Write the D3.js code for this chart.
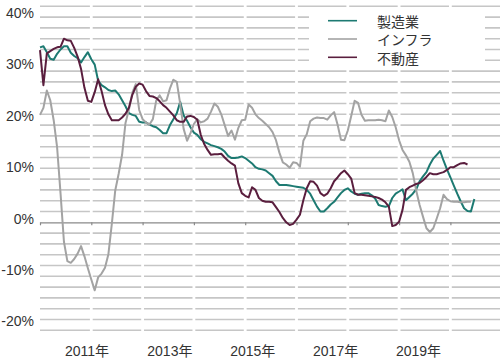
<!DOCTYPE html>
<html><head><meta charset="utf-8">
<script src="https://cdn.jsdelivr.net/npm/d3@7"></script>
<style>body{margin:0;background:#fff}svg{display:block}</style>
</head><body><svg id="c" width="500" height="361"></svg>
<script>
const seriesNames = ["製造業", "インフラ", "不動産"];
const manufacturing = [32.4,32.6,31.5,30.3,30.1,31.2,32.0,32.6,32.6,31.4,
30.8,30.4,29.6,30.6,31.5,30.2,29.2,26.2,25.4,25.0,
24.5,24.3,24.4,23.7,22.6,21.5,20.2,19.9,19.7,18.6,
18.5,18.5,18.1,17.8,17.6,17.1,16.5,16.5,18.0,19.1,
20.2,22.3,19.8,18.8,17.6,16.6,16.2,15.4,14.9,14.6,
14.3,14.1,13.9,13.6,13.1,12.3,11.9,11.9,12.0,12.2,
11.9,11.4,10.9,10.2,9.9,9.8,9.6,9.1,8.6,7.6,
6.9,6.9,6.9,6.8,6.7,6.6,6.5,6.4,6.0,5.3,
4.1,2.9,2.0,2.0,2.6,3.3,3.8,4.6,5.4,6.0,
6.3,5.7,5.3,5.1,5.3,5.4,5.4,5.0,4.4,3.2,
3.0,2.9,3.0,4.5,5.3,5.7,6.1,4.1,4.7,5.3,
6.1,7.6,8.5,9.3,10.7,11.8,12.5,13.2,11.4,9.8,
8.3,6.8,5.3,3.9,2.6,2.1,2.0,4.3];
const infrastructure = [19.9,21.2,24.4,22.6,18.9,13.9,5.4,-3.6,-7.2,-7.5,
-6.8,-5.8,-4.4,-6.3,-8.5,-10.6,-12.6,-10.2,-9.5,-8.4,
-5.9,-0.3,5.9,9.0,12.5,18.4,20.9,24.0,25.6,20.8,
19.1,18.5,18.1,19.1,22.6,23.5,22.4,22.6,24.8,26.4,
26.0,21.9,17.3,15.1,16.5,18.2,19.1,18.5,18.7,19.2,
20.5,22.0,21.4,20.0,18.0,16.0,17.0,15.3,17.5,18.9,
19.0,21.8,21.2,20.0,19.3,18.8,18.2,17.6,16.7,15.2,
12.9,11.1,10.7,10.1,11.1,11.0,10.3,15.1,16.3,18.7,
19.2,19.4,19.3,19.3,19.0,19.8,20.4,18.1,15.3,15.2,
17.0,19.7,22.5,22.1,19.9,18.8,18.9,18.9,18.9,19.0,
18.9,18.7,20.7,19.5,17.6,15.2,13.4,12.4,11.2,9.1,
5.9,3.2,1.0,-1.1,-1.8,-1.1,0.7,2.6,5.1,4.3,
3.9,3.8,3.8,3.7,3.7,3.8,3.8];
const realEstate = [31.9,25.4,31.3,31.7,32.1,32.4,32.5,34.0,33.7,33.6,
32.3,30.7,28.4,24.9,22.5,22.3,24.1,26.5,24.3,21.7,
20.0,18.9,18.9,18.9,19.4,20.1,21.2,23.6,25.1,25.7,
25.5,24.3,23.4,23.3,23.0,22.4,21.7,21.2,20.5,19.8,
18.9,18.6,18.6,19.6,19.7,19.5,19.0,16.2,14.5,13.4,
12.5,12.6,12.6,12.7,12.0,11.4,10.9,10.5,7.2,5.4,
4.9,4.6,6.5,6.0,4.5,4.0,3.8,3.8,3.7,2.8,
1.9,0.8,0.0,-0.5,-0.3,0.5,1.4,4.1,6.3,7.6,
7.5,6.8,5.4,4.9,5.3,6.3,7.6,8.3,9.1,9.6,
8.9,8.1,5.4,5.1,5.1,5.0,4.9,4.8,4.7,4.5,
4.2,3.7,2.9,-0.7,-0.5,0.1,2.3,6.0,6.5,6.8,
7.1,7.3,7.8,8.4,9.1,8.9,8.9,9.1,9.3,9.7,
10.2,10.2,10.6,10.9,11.0,10.7];
const yearLabels = ["2011年", "2013年", "2015年", "2017年", "2019年"];
const yTickValues = [40, 30, 20, 10, 0, -10, -20];
const seriesColors = ["#1d7a72", "#a3a3a3", "#5a1e3e"];

const series = [manufacturing, infrastructure, realEstate];
const svg = d3.select("#c");
svg.append("rect").attr("width", 500).attr("height", 361).attr("fill", "#fff");

const x = d3.scaleLinear().domain([0, 135]).range([40, 501.7]);
const y = d3.scaleLinear().domain([-20, 40]).range([330.3, 6.3]);
const yLab = d3.scaleLinear().domain([-20, 40]).range([321.5, 12.8]);

// gridlines (broken at every 15th category)
const gridVals = d3.range(-20, 41, 2).filter(v => v !== 0);
const segs = d3.range(9).map(k => [x(15 * k) + (k ? 1.4 : 0), x(15 * (k + 1)) - 1.4]);
const grid = svg.append("g");
gridVals.forEach(v => {
  segs.forEach(s => {
    grid.append("line").attr("x1", s[0]).attr("x2", s[1])
      .attr("y1", y(v)).attr("y2", y(v))
      .attr("stroke", "#c6c6c6").attr("stroke-width", 1.6);
  });
});

// zero axis with ticks
const xAxis = d3.axisBottom(x).tickValues(d3.range(0, 136, 15)).tickSize(3).tickSizeOuter(0).tickFormat("");
const ax = svg.append("g").attr("transform", `translate(0,${y(0)})`).call(xAxis);
ax.select(".domain").attr("stroke", "#8a8a8a").attr("stroke-width", 1.3);
ax.selectAll(".tick line").attr("stroke", "#8a8a8a").attr("stroke-width", 1.2);

// legend box covers gridlines
svg.append("rect").attr("x", 309).attr("y", 11).attr("width", 176).attr("height", 55).attr("fill", "#fff");

// y labels
const yAxis = d3.axisLeft(yLab).tickValues(yTickValues).tickSize(0).tickPadding(0).tickFormat(d => d + "%");
const ya = svg.append("g").attr("transform", "translate(34,0)").call(yAxis);
ya.select(".domain").remove();
ya.selectAll("text").attr("font-family", "Liberation Sans, Arial, sans-serif").attr("font-size", 14).attr("fill", "#333");

// x labels
const labelIdx = yearLabels.map((d, i) => 13.6 + 24.23 * i);
const xLabAxis = d3.axisBottom(x).tickValues(labelIdx).tickSize(0).tickPadding(0).tickFormat((d, i) => yearLabels[i]);
const xa = svg.append("g").attr("transform", "translate(0,346.5)").call(xLabAxis);
xa.select(".domain").remove();
xa.selectAll("text").attr("font-family", "Liberation Sans, 'Noto Sans CJK JP', sans-serif").attr("font-size", 14).attr("fill", "#333");

// lines
const line = d3.line().x((d, i) => x(i)).y(d => y(d));
series.forEach((s, k) => {
  svg.append("path").datum(s).attr("d", line).attr("fill", "none")
    .attr("stroke", seriesColors[k]).attr("stroke-width", 2).attr("stroke-linejoin", "round");
});

// legend
const legY = [20.7, 39, 57.3];
seriesNames.forEach((n, k) => {
  svg.append("line").attr("x1", 328).attr("x2", 357).attr("y1", legY[k]).attr("y2", legY[k])
    .attr("stroke", seriesColors[k]).attr("stroke-width", 1.6);
  svg.append("text").attr("x", 377).attr("y", legY[k] + 1.5).attr("dy", "0.35em")
    .attr("font-family", "'Noto Sans CJK JP', sans-serif").attr("font-size", 14).attr("fill", "#333").text(n);
});
</script></body></html>
